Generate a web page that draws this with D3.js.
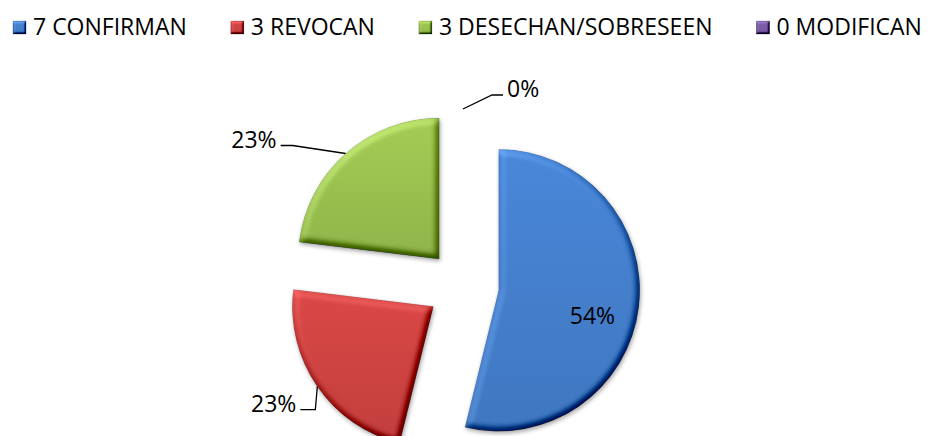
<!DOCTYPE html>
<html>
<head>
<meta charset="utf-8">
<script src="https://cdn.jsdelivr.net/npm/d3@7"></script>
<style>
  html, body { margin: 0; padding: 0; background: #ffffff; }
  svg { display: block; }
  text { font-family: "Open Sans", "Noto Sans", sans-serif; fill: #000; }
</style>
</head>
<body>
<svg id="chart" width="931" height="436"></svg>
<script>
// ---- data ----
const categories = ["7 CONFIRMAN", "3 REVOCAN", "3 DESECHAN/SOBRESEEN", "0 MODIFICAN"];
const values = [7, 3, 3, 0];
const colors = ["#4580CE", "#CF4442", "#9BC150", "#7B5CA6"];

// ---- layout ----
const W = 931, H = 436;
const cx = 463, cy = 286, R = 141, explode = 36;
const fontSize = 23;

const svg = d3.select("#chart");
const defs = svg.append("defs");

function addBevel(id, std, scale, shadow, k3) {
  const f = defs.append("filter").attr("id", id)
    .attr("x", "-20%").attr("y", "-20%").attr("width", "140%").attr("height", "140%")
    .attr("color-interpolation-filters", "sRGB");
  f.append("feGaussianBlur").attr("in", "SourceAlpha").attr("stdDeviation", std).attr("result", "blur");
  const dl = f.append("feDiffuseLighting").attr("in", "blur").attr("surfaceScale", scale)
    .attr("diffuseConstant", 1).attr("lighting-color", "#ffffff").attr("result", "light");
  dl.append("feDistantLight").attr("azimuth", 235).attr("elevation", 55);
  f.append("feComposite").attr("in", "SourceGraphic").attr("in2", "light")
    .attr("operator", "arithmetic").attr("k1", 0).attr("k2", 1).attr("k3", k3).attr("k4", -0.819 * k3)
    .attr("result", "lit");
  f.append("feComposite").attr("in", "lit").attr("in2", "SourceAlpha").attr("operator", "in").attr("result", "bev");
  const merge = [];
  if (shadow) {
    f.append("feGaussianBlur").attr("in", "SourceAlpha").attr("stdDeviation", 2).attr("result", "sb");
    f.append("feOffset").attr("in", "sb").attr("dx", 1).attr("dy", 2).attr("result", "so");
    const ct = f.append("feComponentTransfer").attr("in", "so").attr("result", "sh");
    ct.append("feFuncA").attr("type", "linear").attr("slope", 0.35);
    merge.push("sh");
  }
  merge.push("bev");
  const m = f.append("feMerge");
  merge.forEach(n => m.append("feMergeNode").attr("in", n));
}
addBevel("bevel", 3.5, 5, true, 0.6);
addBevel("bevelSmall", 1.3, 2.5, false, 0.7);

colors.forEach((c, i) => {
  const g = defs.append("linearGradient").attr("id", "grad" + i)
    .attr("x1", 0).attr("y1", 0).attr("x2", 0).attr("y2", 1);
  g.append("stop").attr("offset", "0%").attr("stop-color", d3.color(c).brighter(0.15).formatHex());
  g.append("stop").attr("offset", "100%").attr("stop-color", d3.color(c).darker(0.2).formatHex());
});

// ---- legend ----
const legend = svg.append("g");
let lx = 13;
categories.forEach((cat, i) => {
  const g = legend.append("g");
  g.append("rect").attr("x", lx).attr("y", 21).attr("width", 13).attr("height", 13)
    .attr("fill", `url(#grad${i})`)
    .attr("stroke", d3.color(colors[i]).darker(0.6).formatHex()).attr("stroke-width", 0.6)
    .attr("filter", "url(#bevelSmall)");
  const t = g.append("text").attr("x", lx + 20).attr("y", 35)
    .style("font-size", fontSize + "px").text(cat);
  const w = t.node().getComputedTextLength();
  lx = lx + 20 + w + 44;
});

// ---- pie ----
const total = d3.sum(values);
const pct = d3.format(".0%");
const pie = d3.pie().sort(null).value(d => d)(values);
const arc = d3.arc().innerRadius(0).outerRadius(R);

function polar(angle, r) { return [Math.sin(angle) * r, -Math.cos(angle) * r]; }

const slices = svg.append("g");
pie.forEach((p, i) => {
  const mid = (p.startAngle + p.endAngle) / 2;
  const [ox, oy] = polar(mid, explode);
  p.cx = cx + ox; p.cy = cy + oy; p.mid = mid;
  if (p.value <= 0) return;
  slices.append("path")
    .attr("transform", `translate(${p.cx},${p.cy})`)
    .attr("d", arc(p))
    .attr("fill", `url(#grad${i})`)
    .attr("stroke", d3.color(colors[i]).darker(0.6).formatHex())
    .attr("stroke-opacity", 0.7)
    .attr("stroke-width", 0.6)
    .attr("filter", "url(#bevel)");
});

// ---- labels ----
const labels = svg.append("g");
// inside label for the large slice
{
  const p = pie[0];
  const [dx, dy] = polar(p.mid + 0.15, R * 0.69);
  labels.append("text").attr("x", p.cx + dx).attr("y", p.cy + dy + 8)
    .attr("text-anchor", "middle").style("font-size", fontSize + "px")
    .text(pct(values[0] / total));
}
// outside labels with leader lines: [index, elbow dx, elbow dy, horizontal length, side]
const outside = [
  [2, -53, -8, -12, "end"],
  [1, -2, 23, -15, "end"],
  [3, 29, -14, 11, "start"]
];
outside.forEach(([i, ex, ey, hl, anchor]) => {
  const p = pie[i];
  const [px, py] = polar(p.mid, explode + R);
  const P = [cx + px, cy + py];
  const E = [P[0] + ex, P[1] + ey];
  const T = [E[0] + hl, E[1]];
  labels.append("path")
    .attr("d", d3.line()([P, E, T]))
    .attr("fill", "none").attr("stroke", "#000").attr("stroke-width", 1.3);
  labels.append("text")
    .attr("x", T[0] + (anchor === "end" ? -4 : 4))
    .attr("y", T[1] + 2)
    .attr("text-anchor", anchor)
    .style("font-size", fontSize + "px")
    .text(pct(values[i] / total));
});
</script>
</body>
</html>
